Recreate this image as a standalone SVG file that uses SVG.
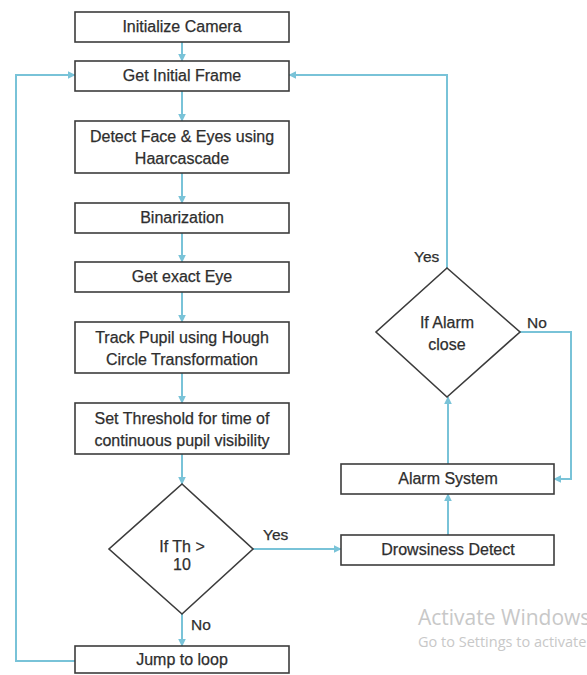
<svg xmlns="http://www.w3.org/2000/svg" width="587" height="675" viewBox="0 0 587 675">
  <defs>
    <marker id="arr" viewBox="0 0 6 6" refX="5.5" refY="3" markerWidth="4" markerHeight="4" orient="auto" markerUnits="strokeWidth">
      <path d="M0,0 L6,3 L0,6 z" fill="#79c3d8"/>
    </marker>
    <style>
      .box { fill: #ffffff; stroke: #3c3c3c; stroke-width: 1.6; }
      .dia { fill: #ffffff; stroke: #3c3c3c; stroke-width: 1.6; }
      .lbl { font-family: "Liberation Sans", Arial, sans-serif; font-size: 16px; fill: #2e2e2e; stroke: #2e2e2e; stroke-width: 0.25; text-anchor: middle; }
      .side { font-family: "Liberation Sans", Arial, sans-serif; font-size: 15.5px; fill: #2e2e2e; stroke: #2e2e2e; stroke-width: 0.25; }
      .con { fill: none; stroke: #79c3d8; stroke-width: 2; marker-end: url(#arr); }
      .wm { font-family: "Open Sans", "Noto Sans", sans-serif; fill: #c8c8c8; }
    </style>
  </defs>

  <rect width="587" height="675" fill="#ffffff"/>

  <!-- connectors -->
  <g id="connectors">
    <line class="con" x1="182" y1="42" x2="182" y2="61"/>
    <line class="con" x1="182" y1="91" x2="182" y2="121"/>
    <line class="con" x1="182" y1="173" x2="182" y2="203"/>
    <line class="con" x1="182" y1="233" x2="182" y2="262"/>
    <line class="con" x1="182" y1="292" x2="182" y2="322"/>
    <line class="con" x1="182" y1="373" x2="182" y2="403"/>
    <line class="con" x1="182" y1="454" x2="182" y2="484"/>
    <line class="con" x1="182" y1="614" x2="182" y2="646"/>
    <line class="con" x1="253" y1="549" x2="341" y2="549"/>
    <line class="con" x1="448" y1="535" x2="448" y2="494"/>
    <line class="con" x1="448" y1="464" x2="448" y2="397"/>
    <polyline class="con" points="520,332 571,332 571,479 554,479"/>
    <polyline class="con" points="447,268 447,75 289,75"/>
    <polyline class="con" points="75,661 16,661 16,75 75,75"/>
  </g>

  <!-- process boxes -->
  <g id="init-camera">
    <rect class="box" x="75" y="12" width="214" height="30"/>
    <text class="lbl" x="182" y="32">Initialize Camera</text>
  </g>
  <g id="get-frame">
    <rect class="box" x="75" y="61" width="214" height="30"/>
    <text class="lbl" x="182" y="81">Get Initial Frame</text>
  </g>
  <g id="detect-face">
    <rect class="box" x="75" y="121" width="214" height="52"/>
    <text class="lbl" x="182" y="142">Detect Face &amp; Eyes using</text>
    <text class="lbl" x="182" y="164">Haarcascade</text>
  </g>
  <g id="binarization">
    <rect class="box" x="75" y="203" width="214" height="30"/>
    <text class="lbl" x="182" y="223">Binarization</text>
  </g>
  <g id="exact-eye">
    <rect class="box" x="75" y="262" width="214" height="30"/>
    <text class="lbl" x="182" y="282">Get exact Eye</text>
  </g>
  <g id="track-pupil">
    <rect class="box" x="75" y="322" width="214" height="51"/>
    <text class="lbl" x="182" y="343">Track Pupil using Hough</text>
    <text class="lbl" x="182" y="365">Circle Transformation</text>
  </g>
  <g id="set-threshold">
    <rect class="box" x="75" y="403" width="214" height="51"/>
    <text class="lbl" x="182" y="424">Set Threshold for time of</text>
    <text class="lbl" x="182" y="446">continuous pupil visibility</text>
  </g>

  <!-- decision: threshold -->
  <g id="if-th">
    <polygon class="dia" points="182,484 253,549 182,614 109,549"/>
    <text class="lbl" x="182" y="552">If Th &gt;</text>
    <text class="lbl" x="182" y="570">10</text>
  </g>
  <text class="side" x="263" y="540">Yes</text>
  <text class="side" x="191" y="630">No</text>

  <g id="jump-loop">
    <rect class="box" x="75" y="646" width="214" height="27"/>
    <text class="lbl" x="182" y="665">Jump to loop</text>
  </g>

  <!-- right branch -->
  <g id="drowsiness">
    <rect class="box" x="341" y="535" width="213" height="30"/>
    <text class="lbl" x="448" y="555">Drowsiness Detect</text>
  </g>
  <g id="alarm-system">
    <rect class="box" x="341" y="464" width="213" height="30"/>
    <text class="lbl" x="448" y="484">Alarm System</text>
  </g>
  <g id="if-alarm">
    <polygon class="dia" points="447,268 520,332 447,397 376,332"/>
    <text class="lbl" x="447" y="328">If Alarm</text>
    <text class="lbl" x="447" y="350">close</text>
  </g>
  <text class="side" x="414" y="262">Yes</text>
  <text class="side" x="527" y="328">No</text>

  <!-- system overlay text, running off the right edge -->
  <text class="wm" x="418" y="625" font-size="21">Activate Windows</text>
  <text class="wm" x="418" y="647" font-size="14.5">Go to Settings to activate Windows.</text>
</svg>
